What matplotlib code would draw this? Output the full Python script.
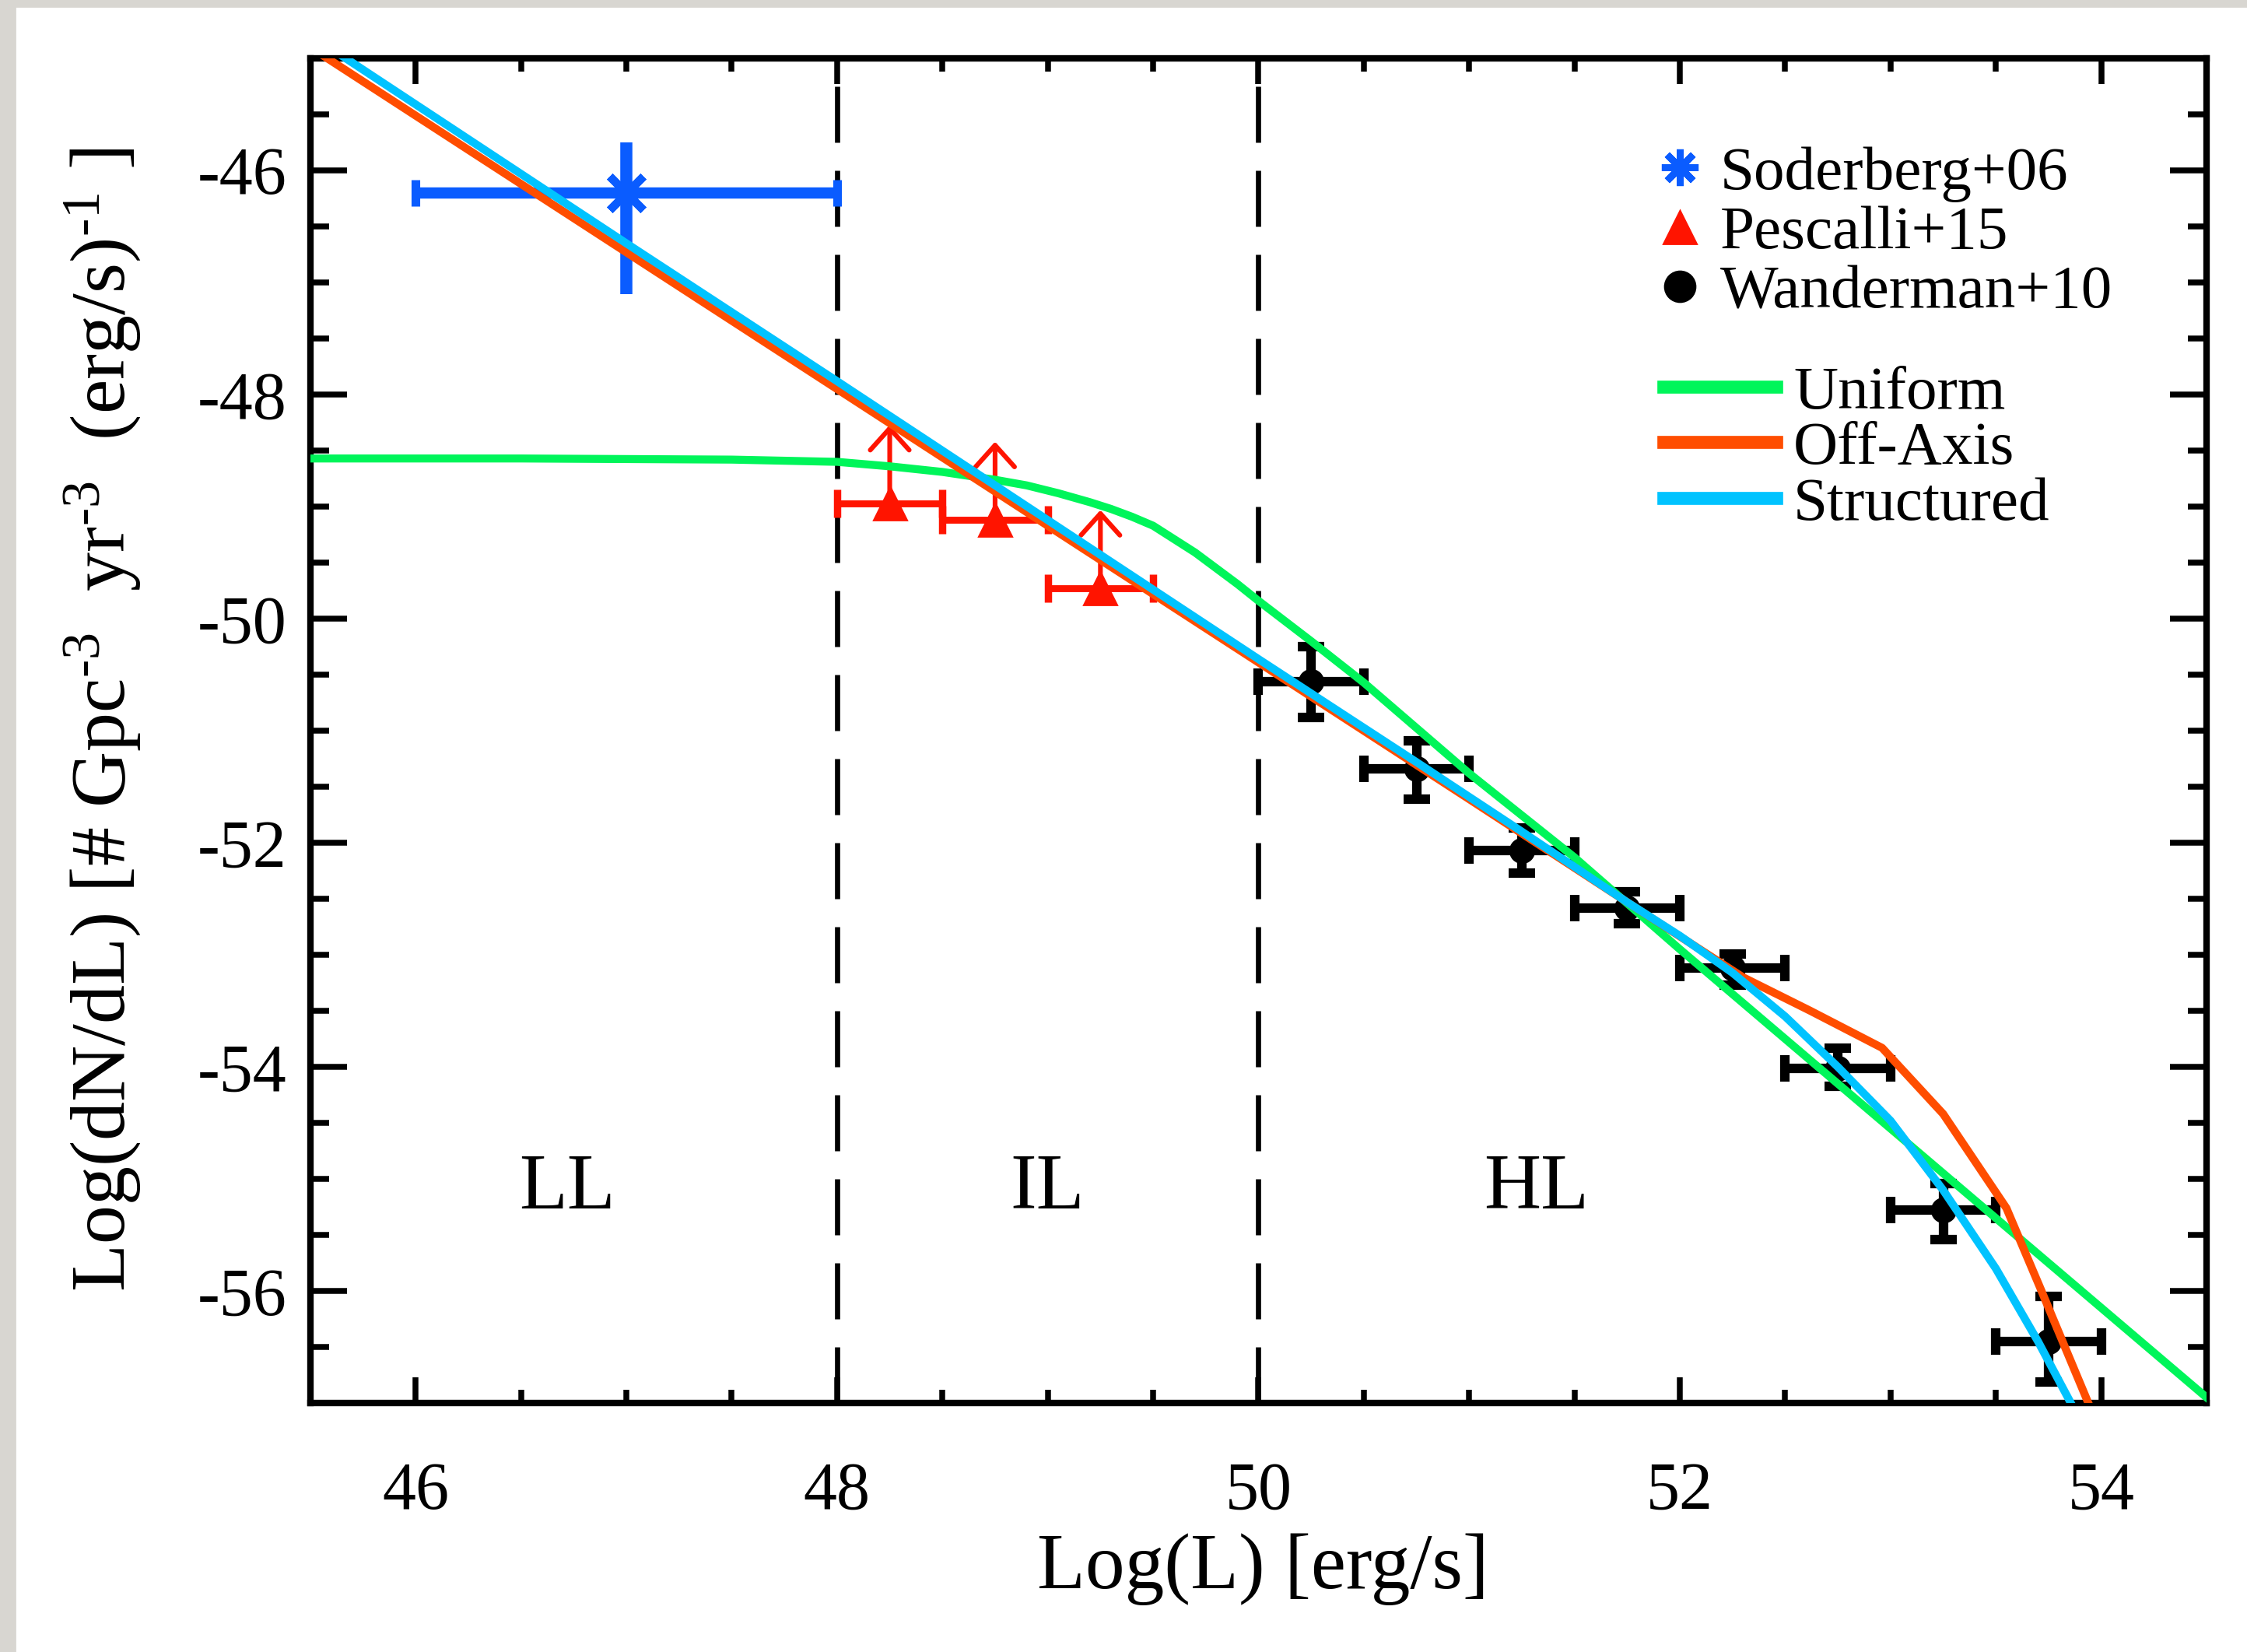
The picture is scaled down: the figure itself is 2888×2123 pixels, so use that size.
import matplotlib.pyplot as plt
from matplotlib.lines import Line2D
from matplotlib.patches import Rectangle
from matplotlib.ticker import MultipleLocator

plt.rcParams['font.family'] = 'Liberation Serif'
plt.rcParams['mathtext.fontset'] = 'custom'
plt.rcParams['mathtext.rm'] = 'Liberation Serif'
plt.rcParams['mathtext.it'] = 'Liberation Serif:italic'
plt.rcParams['axes.unicode_minus'] = False

# Soderberg+06 (low-luminosity rate)
sod_x = [47.0]
sod_y = [-46.2]
sod_xerr = [1.0]
sod_yerr_lo = [0.9]
sod_yerr_hi = [0.45]

# Pescalli+15 (lower limits)
pes_x = [48.25, 48.75, 49.25]
pes_y = [-48.97, -49.12, -49.73]
pes_xerr = [0.25, 0.25, 0.25]
lim_len = 0.7

# Wanderman+10
wan_x = [50.25, 50.75, 51.25, 51.75, 52.25, 52.75, 53.25, 53.75]
wan_y = [-50.56, -51.34, -52.07, -52.58, -53.12, -54.01, -55.28, -56.45]
wan_xerr = [0.25, 0.25, 0.25, 0.25, 0.25, 0.25, 0.25, 0.25]
wan_yerr_lo = [0.32, 0.27, 0.20, 0.14, 0.15, 0.16, 0.26, 0.36]
wan_yerr_hi = [0.31, 0.25, 0.20, 0.14, 0.13, 0.18, 0.24, 0.40]

# model luminosity functions
uni_x = [45.5, 46.5, 47.5, 48.0, 48.25, 48.5, 48.75, 48.9, 49.05, 49.2, 49.3,
         49.4, 49.5, 49.6, 49.7, 49.8, 49.9, 50.0, 50.25, 50.5, 51.0, 51.5,
         52.0, 53.0, 54.5]
uni_y = [-48.57, -48.57, -48.58, -48.6, -48.64, -48.69, -48.76, -48.81, -48.88,
         -48.96, -49.02, -49.09, -49.17, -49.29, -49.41, -49.55, -49.69, -49.84,
         -50.2, -50.57, -51.38, -52.13, -52.95, -54.55, -56.95]

off_x = [45.5, 47.0, 48.0, 49.0, 50.0, 51.0, 51.75, 52.3, 52.62, 52.96, 53.25,
         53.55, 53.71, 53.95]
off_y = [-44.9, -46.73, -47.95, -49.17, -50.39, -51.61, -52.53, -53.2, -53.5,
         -53.83, -54.42, -55.26, -55.97, -57.05]

str_x = [45.5, 47.0, 48.0, 49.0, 50.0, 50.75, 51.25, 51.75, 52.0, 52.25, 52.5,
         52.75, 53.0, 53.25, 53.5, 53.7, 53.87]
str_y = [-44.79, -46.65, -47.88, -49.12, -50.36, -51.28, -51.9, -52.53, -52.83,
         -53.16, -53.55, -54.0, -54.48, -55.1, -55.8, -56.45, -57.05]

# luminosity classes
bounds = [48, 50]
regions = ['LL', 'IL', 'HL']
region_x = [46.72, 49.0, 51.32]
region_y = -55.26

blue = '#0a5cff'
red = '#ff1400'
green = '#00f55a'
orange = '#ff4d00'
cyan = '#00c3ff'

fig = plt.figure(figsize=(14.44, 10.615), dpi=200)
ax = fig.add_axes([0.1381, 0.1507, 0.8439, 0.8139])
ax.set_xlim(45.5, 54.5)
ax.set_ylim(-57, -45)

# gray page edge
fig.add_artist(Rectangle((0, 0), 19 / 2888, 1, transform=fig.transFigure,
                         color='#d8d6d1', zorder=0))
fig.add_artist(Rectangle((0, 1 - 8 / 2123), 1, 8 / 2123, transform=fig.transFigure,
                         color='#d8d6d1', zorder=0))

for b in bounds:
    ax.plot([b, b], [-57, -45], color='k', lw=2.4, dashes=(10.8, 5.4), zorder=1)

for name, xr in zip(regions, region_x):
    ax.text(xr, region_y, name, ha='center', va='baseline', fontsize=36.5)

# data
ax.errorbar(sod_x, sod_y, xerr=sod_xerr, fmt='none', ecolor=blue,
            elinewidth=5.2, capsize=6, capthick=4, zorder=3)
ax.errorbar(sod_x, sod_y, yerr=[sod_yerr_lo, sod_yerr_hi], fmt='none',
            ecolor=blue, elinewidth=5.6, capsize=0, zorder=3)
ax.plot(sod_x, sod_y, ls='none', marker=(8, 2, 0), ms=22, mew=3.8,
        color=blue, zorder=3)

ax.errorbar(pes_x, pes_y, xerr=pes_xerr, fmt='^', color=red, ms=15,
            elinewidth=3.2, capsize=6.5, capthick=3.4, zorder=3)
for xp, yp in zip(pes_x, pes_y):
    ax.annotate('', xy=(xp, yp + lim_len), xytext=(xp, yp),
                arrowprops=dict(arrowstyle='->,head_length=0.5,head_width=0.45',
                                color=red, lw=2.2, shrinkA=0, shrinkB=0,
                                mutation_scale=20),
                zorder=3)

ax.errorbar(wan_x, wan_y, xerr=wan_xerr, yerr=[wan_yerr_lo, wan_yerr_hi],
            fmt='o', color='k', ms=11, elinewidth=4.4, capsize=6,
            capthick=4.4, zorder=3)

# models
ax.plot(uni_x, uni_y, color=green, lw=3.7, zorder=4)
ax.plot(off_x, off_y, color=orange, lw=3.7, zorder=4)
ax.plot(str_x, str_y, color=cyan, lw=3.7, zorder=4)

# axes styling
ax.set_xticks([46, 48, 50, 52, 54])
ax.set_yticks([-56, -54, -52, -50, -48, -46])
ax.xaxis.set_minor_locator(MultipleLocator(0.5))
ax.yaxis.set_minor_locator(MultipleLocator(0.5))
ax.tick_params(which='both', direction='in', top=True, right=True, width=2.7,
               labelsize=31)
ax.tick_params(axis='x', which='major', length=12, pad=27)
ax.tick_params(axis='x', which='minor', length=6)
ax.tick_params(axis='y', which='major', length=17, pad=11)
ax.tick_params(axis='y', which='minor', length=8.6)
for sp in ax.spines.values():
    sp.set_linewidth(3)

hy = '\u2010'
ax.set_xlabel('Log(L) [erg/s]', fontsize=36.5)
ax.set_ylabel('Log(dN/dL) [# Gpc$^{' + hy + '3}$  yr$^{' + hy + '3}$  (erg/s)$^{'
              + hy + '1}$ ]', fontsize=36)
ax.xaxis.set_label_coords(0.5026, -0.097)
ax.yaxis.set_label_coords(-0.088, 0.508)

# legends
mark_handles = [
    Line2D([], [], ls='none', marker=(8, 2, 0), ms=17, mew=3.2, color=blue),
    Line2D([], [], ls='none', marker='^', ms=15, color=red),
    Line2D([], [], ls='none', marker='o', ms=14, color='k'),
]
leg1 = ax.legend(mark_handles, ['Soderberg+06', 'Pescalli+15', 'Wanderman+10'],
                 loc='upper left', bbox_to_anchor=(0.706, 0.935), frameon=False,
                 fontsize=28.5, handlelength=1.0, handletextpad=0.15,
                 labelspacing=0.05, borderpad=0, borderaxespad=0)
ax.add_artist(leg1)
line_handles = [Line2D([], [], color=c, lw=6) for c in (green, orange, cyan)]
ax.legend(line_handles, ['Uniform', 'Off-Axis', 'Structured'],
          loc='upper left', bbox_to_anchor=(0.7136, 0.772), frameon=False,
          fontsize=28.5, handlelength=1.83, handletextpad=0.28,
          labelspacing=-0.01, borderpad=0, borderaxespad=0)

fig.savefig('out.png', dpi=200)
